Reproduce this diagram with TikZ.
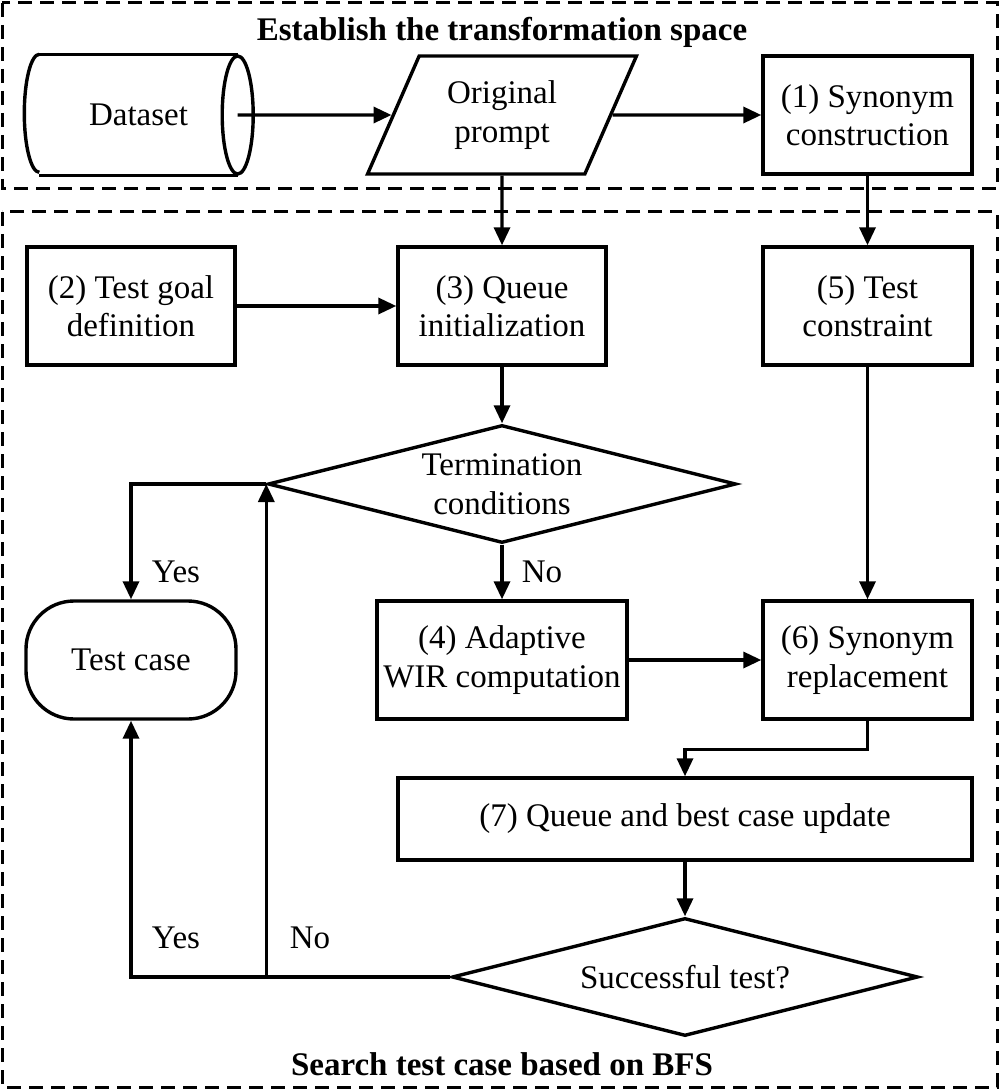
\documentclass[tikz,border=0pt]{standalone}
\usepackage{fontspec}
\setmainfont{Liberation Serif}
\usetikzlibrary{shapes.geometric, arrows.meta, positioning}
\tikzset{>={Triangle[length=18pt,width=16pt]}}
\def\boxwidth{209pt}
\def\boxheight{118pt}
\def\diamondwidth{468pt}

\begin{document}
\begin{tikzpicture}[x=1pt, y=-1pt, line width=3.4pt,
    every node/.style={font=\fontsize{33}{38.5}\selectfont, align=center, inner sep=0pt},
    process/.style={draw, rectangle, minimum width=\boxwidth, minimum height=\boxheight},
    decision/.style={draw, diamond, aspect=4, minimum width=\diamondwidth, minimum height=\boxheight},
    dataio/.style={draw, trapezium, trapezium left angle=63.4, trapezium right angle=116.6,
        trapezium stretches=true, minimum width=269pt, minimum height=\boxheight},
    terminal/.style={draw, rectangle, rounded corners=48pt,
        minimum width=210pt, minimum height=\boxheight},
    region/.style={line width=3pt, dash pattern=on 14pt off 8pt},
    title/.style={font=\fontsize{33}{38.5}\selectfont\bfseries}]

\useasboundingbox (0,0) rectangle (999,1091);

% Regions
\draw[region] (2,3) rectangle (997,189);
\draw[region] (2,212) rectangle (997,1087);
\node[title] (spacetitle) at (502,32) {Establish the transformation space};
\node[title] (searchtitle) at (502,1064) {Search test case based on BFS};

% Dataset cylinder
\node[minimum width=195pt, minimum height=\boxheight] (dataset) at (138.5,115) {Dataset};
\draw (dataset.north west) -- (dataset.north east);
\draw (dataset.south west) -- (dataset.south east);
\draw (dataset.north west) arc[start angle=90, end angle=270, x radius=15pt, y radius=59pt];
\draw (dataset.east) ellipse [x radius=15.5pt, y radius=59pt];

% Top row
\node[dataio] (prompt) at (502,115) {Original\\prompt};
\node[process] (synonym) at (867.5,115) {(1) Synonym\\construction};

% Second row
\node[process, minimum width=208pt] (goal) at (131,306) {(2) Test goal\\definition};
\node[process, minimum width=208pt] (queue) at (502,306) {(3) Queue\\initialization};
\node[process] (constraint) at (867.5,306) {(5) Test\\constraint};

% Termination check
\node[decision] (termination) at (502,484) {Termination\\conditions};

% Third row
\node[terminal] (testcase) at (131,660) {Test case};
\node[process, minimum width=250pt] (wir) at (502,660) {(4) Adaptive\\WIR computation};
\node[process] (replacement) at (867.5,660) {(6) Synonym\\replacement};

% Update and success check
\node[process, minimum width=574pt, minimum height=82pt] (update) at (685,819) {(7) Queue and best case update};
\node[decision, minimum width=466pt] (success) at (685,977) {Successful test?};

% Labels
\node (yesupper) at (176,572) {Yes};
\node (noupper) at (542,572) {No};
\node (yeslower) at (176,938) {Yes};
\node (nolower) at (310,938) {No};

% Connectors
\draw[->] (dataset.east) -- (prompt.west);
\draw[->] (prompt.east) -- (synonym.west);
\draw[->] (prompt.south) -- (queue.north);
\draw[->] (synonym) -- (constraint);
\draw[->] (goal) -- (queue);
\draw[->] (queue) -- (termination);
\draw[->] (termination.south) -- (wir.north);
\draw[->] (termination.west) -| (testcase.north);
\draw[->] (constraint) -- (replacement);
\draw[->] (wir) -- (replacement);
\draw[->] (replacement.south) -- ++(0,29) -| (update.north);
\draw[->] (update) -- (success);
\draw[->] (success.west) -| (testcase.south);
\draw[->] (success.west -| termination.west) -- (termination.west);

\end{tikzpicture}
\end{document}
